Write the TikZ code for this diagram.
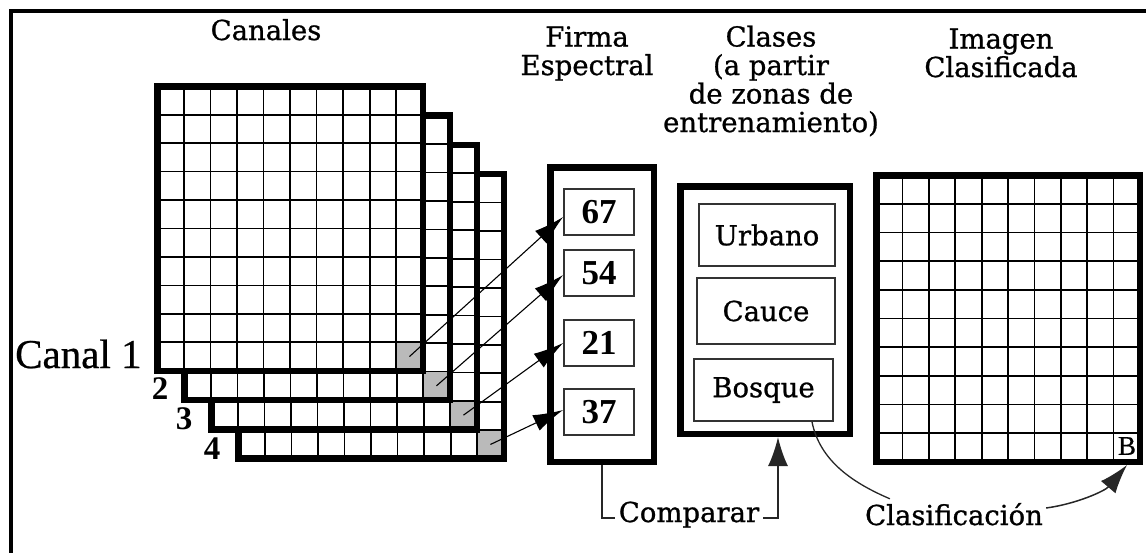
\documentclass[tikz,border=0pt]{standalone}
\usepackage{fontspec}
\setmainfont{DejaVu Serif}
\newfontfamily\heavyserif{DejaVu Serif}[FakeBold=0.9]
\newfontfamily\timesfont{Liberation Serif}
\newfontfamily\timesheavy{Liberation Serif}[FakeBold=0.6]
\usetikzlibrary{arrows.meta,calc}

\tikzset{
  frameline/.style={line width=4pt},
  chanborder/.style={line width=6.5pt},
  gridline/.style={line width=1.7pt},
  bigbox/.style={draw, line width=6.5pt, fill=white, inner sep=0pt},
  numbox/.style={draw=black!80, line width=1.8pt, minimum width=70pt,
    minimum height=46pt, inner sep=0pt,
    font=\timesfont\bfseries\fontsize{35}{35}\selectfont},
  classbox/.style={draw=black!80, line width=1.6pt, inner sep=0pt,
    font=\heavyserif\fontsize{27.5}{27.5}\selectfont},
  title/.style={font=\heavyserif\fontsize{27.5}{28.5}\selectfont, align=center, inner sep=0pt},
  lbl/.style={inner sep=0pt, font=\heavyserif\fontsize{27.5}{28.5}\selectfont},
  chlabel/.style={inner sep=0pt, font=\timesfont\bfseries\fontsize{33}{33}\selectfont},
  thinarrow/.style={draw=black, line width=1.1pt, -{Latex[length=30pt,width=17pt]}},
  conn/.style={draw=black!85, line width=1.8pt},
}

\begin{document}
\begin{tikzpicture}[x=1pt,y=-1pt]
  \useasboundingbox (0,0) rectangle (1146,552);
  \clip (0,0) rectangle (1146,552);

  % page frame (right and bottom sides run off the page)
  \draw[frameline] (10.5,10.5) rectangle (1149,556);

  % column headings (anchored on the baseline of their last line)
  \node[title, anchor=base] (tcan) at (266,40) {Canales};
  \node[title, anchor=base] (tfirma) at (587,75) {Firma\\Espectral};
  \node[title, anchor=base] (tcla) at (771,132) {Clases\\(a partir\\de zonas de\\entrenamiento)};
  \node[title, anchor=base] (timg) at (1001,77) {Imagen\\Clasificada};

  % four stacked channel grids, back to front
  \foreach \k in {3,2,1,0}{
    \pgfmathsetmacro{\xo}{157.25+27*\k}
    \pgfmathsetmacro{\yo}{86.25+29.3*\k}
    \fill[white] (\xo,\yo) rectangle ++(265.5,284.5);
    \fill[black!27] (\xo+238.95,\yo+256.05) rectangle ++(26.55,28.45);
    \foreach \i in {1,...,9}{
      \draw[gridline] (\xo+\i*26.55,\yo) -- ++(0,284.5);
      \draw[gridline] (\xo,\yo+\i*28.45) -- ++(265.5,0);
    }
    \draw[chanborder] (\xo,\yo) rectangle ++(265.5,284.5);
    \coordinate (g\k) at (\xo+252.2,\yo+270.3);
  }

  % channel labels
  \node[inner sep=0pt, font=\timesheavy\fontsize{41}{41}\selectfont, anchor=base west] (lab1) at (15,368) {Canal 1};
  \node[chlabel] (lab2) at (160,389) {2};
  \node[chlabel] (lab3) at (184,419) {3};
  \node[chlabel] (lab4) at (212,449) {4};

  % spectral signature
  \node[bigbox, minimum width=103.5pt, minimum height=294.5pt] (firma) at (602,314.5) {};
  \node[numbox] (n67) at (599,212) {67};
  \node[numbox] (n54) at (599,273) {54};
  \node[numbox] (n21) at (599,343) {21};
  \node[numbox] (n37) at (599,412) {37};

  % training classes
  \node[bigbox, minimum width=169.5pt, minimum height=247.5pt] (clases) at (765,310) {};
  \node[classbox, minimum width=136.5pt, minimum height=62.5pt] (urbano) at (767,235) {Urbano};
  \node[classbox, minimum width=138.5pt, minimum height=66.5pt] (cauce) at (766,311) {Cauce};
  \node[classbox, minimum width=139.5pt, minimum height=62.5pt] (bosque) at (763.5,390) {Bosque};

  % classified image
  \node[bigbox, minimum width=263.5pt, minimum height=286.5pt] (img) at (1008,318.5) {};
  \foreach \i in {1,...,9}{
    \draw[gridline] (876.25+\i*26.35,175.25) -- ++(0,286.5);
    \draw[gridline] (876.25,175.25+\i*28.65) -- ++(263.5,0);
  }
  \draw[chanborder] (876.25,175.25) rectangle (1139.75,461.75);
  \node[inner sep=0pt, font=\timesheavy\fontsize{27}{27}\selectfont] (bcell) at (1127,446) {B};

  % pixel values carried to the signature
  \draw[thinarrow] (g0) -- ($(n67.west)+(0,5)$);
  \draw[thinarrow] (g1) -- ($(n54.west)+(0,2)$);
  \draw[thinarrow] (g2) -- (n21.west);
  \draw[thinarrow] (g3) -- ($(n37.west)+(0,-2)$);

  % comparison and classification
  \node[lbl, anchor=base] (cmp) at (689,522) {Comparar};
  \node[lbl, anchor=base] (cls) at (954,525) {Clasificación};
  \draw[conn] (firma.south) |- ($(cmp.base west)+(-4,-4)$);
  \draw[conn, -{Latex[length=29pt,width=20pt]}] ($(cmp.base east)+(4,-4)$) -| ($(clases.south)+(13,0)$);
  \draw[conn, line width=1.3pt] ($(bosque.south east)+(-22,0)$) .. controls +(8,40) and +(-35,-15) .. ($(cls.north west)+(25,-4)$);
  \draw[conn, line width=1.5pt, -{Latex[length=29pt,width=19pt]}] ($(cls.base east)+(3,-17)$) .. controls +(30,-4) and +(-22,26) .. ($(img.south east)+(-16,0)$);
\end{tikzpicture}
\end{document}
